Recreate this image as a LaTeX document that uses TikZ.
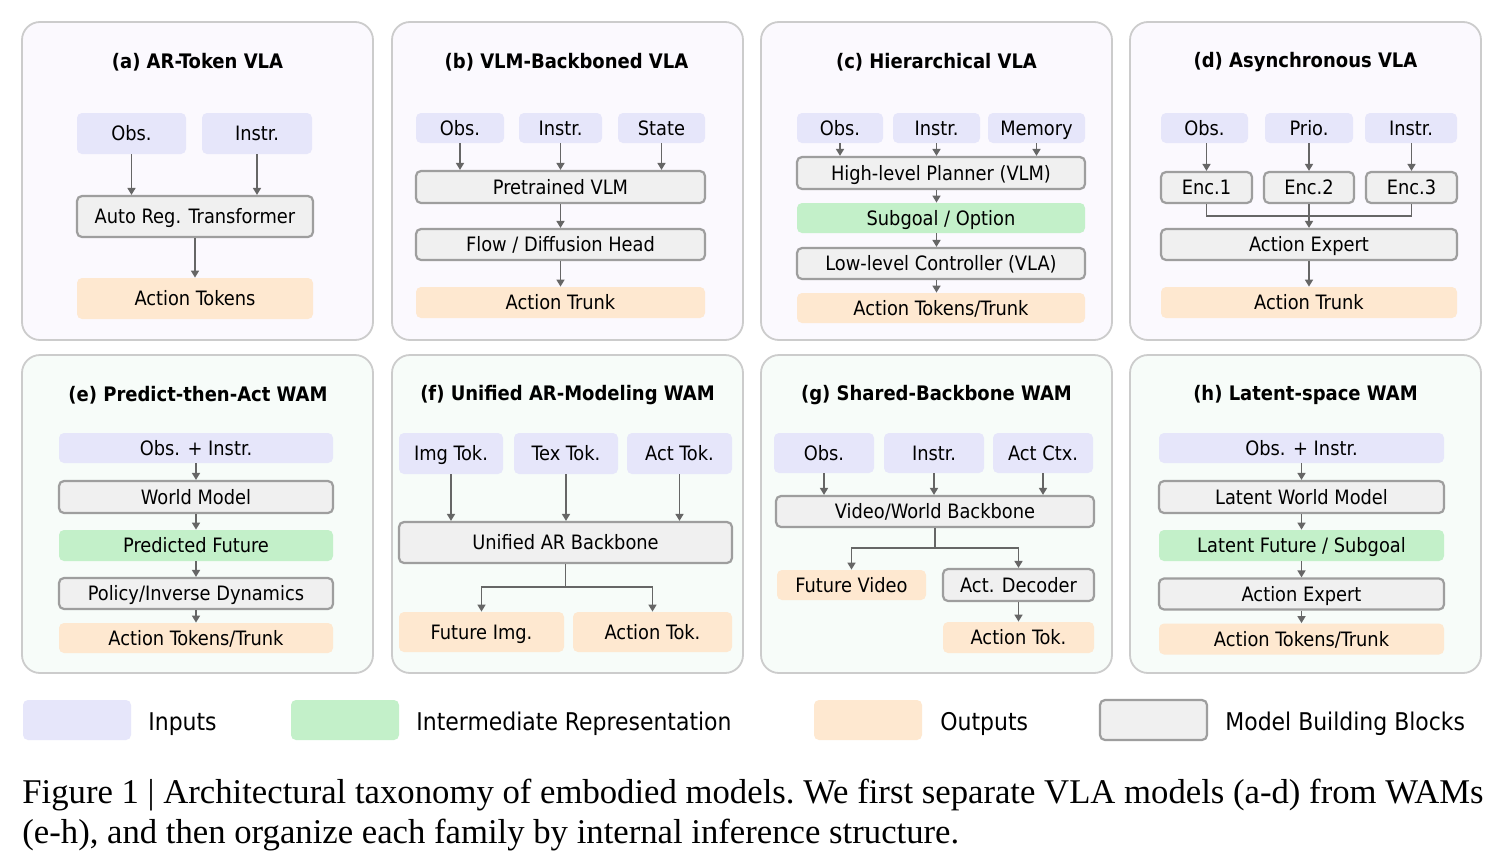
\documentclass[tikz,border=0pt]{standalone}
\usepackage{fontspec}
\setmainfont{Liberation Serif}
\newfontfamily\diagfont{DejaVu Sans Condensed}
\usepackage{tikz}
\usetikzlibrary{arrows.meta}
\usepackage{xcolor}
\definecolor{inblue}{HTML}{E6E6FA}
\definecolor{midgreen}{HTML}{C3F0C9}
\definecolor{outpeach}{HTML}{FEE8D0}
\definecolor{modgray}{HTML}{F0F0F0}
\definecolor{modedge}{HTML}{9E9E9E}
\definecolor{arrgray}{HTML}{666666}
\definecolor{panedge}{HTML}{CCCCCC}
\definecolor{vlafill}{HTML}{FBF9FE}
\definecolor{wamfill}{HTML}{F7FCF9}

\begin{document}
\begin{tikzpicture}[x=0.5pt,y=-0.5pt,
    blk/.style={rounded corners=2.5pt,inner sep=0pt,text height=0.73em,text depth=0pt,font=\diagfont\fontsize{9.9}{11}\selectfont},
    inbox/.style={blk,fill=inblue},
    midbox/.style={blk,fill=midgreen},
    outbox/.style={blk,fill=outpeach},
    modbox/.style={blk,fill=modgray,draw=modedge,line width=1.1pt},
    panel/.style={draw=panedge,line width=0.9pt,rounded corners=9pt},
    ptitle/.style={font=\diagfont\bfseries\fontsize{10}{12}\selectfont},
    flow/.style={draw=arrgray,line width=0.8pt,-{Triangle[length=3.5pt,width=4pt]}},
    link/.style={draw=arrgray,line width=0.8pt},
    legtext/.style={anchor=base west,inner sep=0pt,font=\diagfont\fontsize{12.2}{14}\selectfont}]
    \fill[white] (0,0) rectangle (1501,857);
    \useasboundingbox (0,0) rectangle (1501,857);

    \draw[panel,fill=vlafill] (22,22) rectangle (373,340);
    \draw[panel,fill=vlafill] (392,22) rectangle (743,340);
    \draw[panel,fill=vlafill] (761,22) rectangle (1112,340);
    \draw[panel,fill=vlafill] (1130,22) rectangle (1481,340);
    \draw[panel,fill=wamfill] (22,355) rectangle (373,673);
    \draw[panel,fill=wamfill] (392,355) rectangle (743,673);
    \draw[panel,fill=wamfill] (761,355) rectangle (1112,673);
    \draw[panel,fill=wamfill] (1130,355) rectangle (1481,673);

    \node[ptitle] (ttlA) at (197.5,62) {(a) AR-Token VLA};
    \node[inbox,minimum width=54.5pt,minimum height=20.5pt] (obsA) at (131.5,133.5) {Obs.};
    \node[inbox,minimum width=55pt,minimum height=20.5pt] (insA) at (257,133.5) {Instr.};
    \node[modbox,minimum width=118pt,minimum height=20.5pt] (artA) at (195,216.5) {Auto Reg. Transformer};
    \node[outbox,minimum width=118pt,minimum height=20.5pt] (actA) at (195,298.5) {Action Tokens};
    \draw[flow] (obsA) -- (obsA |- artA.north);
    \draw[flow] (insA) -- (insA |- artA.north);
    \draw[flow] (artA) -- (actA);

    \node[ptitle] (ttlB) at (566.5,62) {(b) VLM-Backboned VLA};
    \node[inbox,minimum width=44pt,minimum height=15pt] (obsB) at (460,128) {Obs.};
    \node[inbox,minimum width=41.5pt,minimum height=15pt] (insB) at (560.5,128) {Instr.};
    \node[inbox,minimum width=43.5pt,minimum height=15pt] (staB) at (661.5,128) {State};
    \node[modbox,minimum width=144.5pt,minimum height=16pt] (vlmB) at (560.5,187) {Pretrained VLM};
    \node[modbox,minimum width=144.5pt,minimum height=15.5pt] (headB) at (560.5,244.5) {Flow / Diffusion Head};
    \node[outbox,minimum width=144.5pt,minimum height=15.5pt] (trkB) at (560.5,302.5) {Action Trunk};
    \draw[flow] (obsB) -- (obsB |- vlmB.north);
    \draw[flow] (insB) -- (insB |- vlmB.north);
    \draw[flow] (staB) -- (staB |- vlmB.north);
    \draw[flow] (vlmB) -- (headB);
    \draw[flow] (headB) -- (trkB);

    \node[ptitle] (ttlC) at (936.5,62) {(c) Hierarchical VLA};
    \node[inbox,minimum width=43pt,minimum height=15pt] (obsC) at (840,128) {Obs.};
    \node[inbox,minimum width=43.5pt,minimum height=15pt] (insC) at (936.5,128) {Instr.};
    \node[inbox,minimum width=48.5pt,minimum height=15pt] (memC) at (1036.5,128) {Memory};
    \node[modbox,minimum width=144pt,minimum height=16pt] (hlpC) at (941,173) {High-level Planner (VLM)};
    \node[midbox,minimum width=144pt,minimum height=15pt] (subC) at (941,218) {Subgoal / Option};
    \node[modbox,minimum width=144pt,minimum height=15.5pt] (llcC) at (941,263.5) {Low-level Controller (VLA)};
    \node[outbox,minimum width=144pt,minimum height=15pt] (actC) at (941,308) {Action Tokens/Trunk};
    \draw[flow] (obsC) -- (obsC |- hlpC.north);
    \draw[flow] (insC) -- (insC |- hlpC.north);
    \draw[flow] (memC) -- (memC |- hlpC.north);
    \draw[flow] (hlpC.south -| insC) -- (subC.north -| insC);
    \draw[flow] (subC.south -| insC) -- (llcC.north -| insC);
    \draw[flow] (llcC.south -| insC) -- (actC.north -| insC);

    \node[ptitle] (ttlD) at (1305.5,62) {(d) Asynchronous VLA};
    \node[inbox,minimum width=43.5pt,minimum height=15pt] (obsD) at (1204.5,128) {Obs.};
    \node[inbox,minimum width=44pt,minimum height=15pt] (priD) at (1309,128) {Prio.};
    \node[inbox,minimum width=46pt,minimum height=15pt] (insD) at (1411,128) {Instr.};
    \node[modbox,minimum width=45.5pt,minimum height=15.5pt] (enc1D) at (1206.5,187.5) {Enc.1};
    \node[modbox,minimum width=45pt,minimum height=15.5pt] (enc2D) at (1309,187.5) {Enc.2};
    \node[modbox,minimum width=45.5pt,minimum height=15.5pt] (enc3D) at (1411.5,187.5) {Enc.3};
    \node[modbox,minimum width=148pt,minimum height=15.5pt] (expD) at (1309,244.5) {Action Expert};
    \node[outbox,minimum width=148pt,minimum height=15.5pt] (trkD) at (1309,302.5) {Action Trunk};
    \coordinate (mergeD) at (1309,216);
    \draw[flow] (enc1D |- obsD.south) -- (enc1D.north);
    \draw[flow] (priD) -- (enc2D);
    \draw[flow] (enc3D |- insD.south) -- (enc3D.north);
    \draw[link] (enc1D) |- (mergeD) -| (enc3D);
    \draw[flow] (enc2D) -- (expD);
    \draw[flow] (expD) -- (trkD);

    \node[ptitle] (ttlE) at (198,395) {(e) Predict-then-Act WAM};
    \node[inbox,minimum width=137pt,minimum height=15pt] (oiE) at (196,448) {Obs. + Instr.};
    \node[modbox,minimum width=137pt,minimum height=16pt] (wmE) at (196,497) {World Model};
    \node[midbox,minimum width=137pt,minimum height=15.5pt] (pfE) at (196,545.5) {Predicted Future};
    \node[modbox,minimum width=137pt,minimum height=15.5pt] (pidE) at (196,593.5) {Policy/Inverse Dynamics};
    \node[outbox,minimum width=137pt,minimum height=15pt] (atE) at (196,638) {Action Tokens/Trunk};
    \draw[flow] (oiE) -- (wmE);
    \draw[flow] (wmE) -- (pfE);
    \draw[flow] (pfE) -- (pidE);
    \draw[flow] (pidE) -- (atE);

    \node[ptitle] (ttlF) at (567.5,395) {(f) Unified AR-Modeling WAM};
    \node[inbox,minimum width=52pt,minimum height=20.5pt] (imgF) at (451,453.5) {Img Tok.};
    \node[inbox,minimum width=52pt,minimum height=20.5pt] (texF) at (566,453.5) {Tex Tok.};
    \node[inbox,minimum width=52.5pt,minimum height=20.5pt] (actF) at (679.5,453.5) {Act Tok.};
    \node[modbox,minimum width=166.5pt,minimum height=20.5pt] (ubF) at (565.5,542.5) {Unified AR Backbone};
    \node[outbox,minimum width=82.5pt,minimum height=20pt] (fimgF) at (481.5,632) {Future Img.};
    \node[outbox,minimum width=79.5pt,minimum height=20pt] (atokF) at (652.5,632) {Action Tok.};
    \coordinate (splitF) at (565.5,587);
    \draw[flow] (imgF) -- (imgF |- ubF.north);
    \draw[flow] (texF) -- (texF |- ubF.north);
    \draw[flow] (actF) -- (actF |- ubF.north);
    \draw[link] (ubF) -- (splitF);
    \draw[flow] (splitF) -| (fimgF.north);
    \draw[flow] (splitF) -| (atokF.north);

    \node[ptitle] (ttlG) at (936.5,395) {(g) Shared-Backbone WAM};
    \node[inbox,minimum width=50pt,minimum height=20pt] (obsG) at (824,453) {Obs.};
    \node[inbox,minimum width=50pt,minimum height=20pt] (insG) at (934,453) {Instr.};
    \node[inbox,minimum width=50pt,minimum height=20pt] (ctxG) at (1043,453) {Act Ctx.};
    \node[modbox,minimum width=159pt,minimum height=15.5pt] (vwbG) at (935,511.5) {Video/World Backbone};
    \node[outbox,minimum width=74.5pt,minimum height=15pt] (fvG) at (851.5,585) {Future Video};
    \node[modbox,minimum width=75.5pt,minimum height=16pt] (adG) at (1018.5,585) {Act. Decoder};
    \node[outbox,minimum width=75.5pt,minimum height=15.5pt] (atG) at (1018.5,637.5) {Action Tok.};
    \coordinate (splitG) at (935,548);
    \draw[flow] (obsG) -- (obsG |- vwbG.north);
    \draw[flow] (insG) -- (insG |- vwbG.north);
    \draw[flow] (ctxG) -- (ctxG |- vwbG.north);
    \draw[link] (vwbG) -- (splitG);
    \draw[flow] (splitG) -| (fvG.north);
    \draw[flow] (splitG) -| (adG.north);
    \draw[flow] (adG) -- (atG);

    \node[ptitle] (ttlH) at (1305.5,395) {(h) Latent-space WAM};
    \node[inbox,minimum width=142.5pt,minimum height=15pt] (oiH) at (1301.5,448) {Obs. + Instr.};
    \node[modbox,minimum width=142.5pt,minimum height=16pt] (lwmH) at (1301.5,497) {Latent World Model};
    \node[midbox,minimum width=142.5pt,minimum height=15.5pt] (lfH) at (1301.5,545.5) {Latent Future / Subgoal};
    \node[modbox,minimum width=142.5pt,minimum height=15.5pt] (aeH) at (1301.5,594) {Action Expert};
    \node[outbox,minimum width=142.5pt,minimum height=15.5pt] (atH) at (1301.5,639) {Action Tokens/Trunk};
    \draw[flow] (oiH) -- (lwmH);
    \draw[flow] (lwmH) -- (lfH);
    \draw[flow] (lfH) -- (aeH);
    \draw[flow] (aeH) -- (atH);

    \node[inbox,minimum width=54pt,minimum height=20pt] (legIn) at (77,720) {};
    \node[legtext] (legInT) at (148,730) {Inputs};
    \node[midbox,minimum width=54pt,minimum height=20pt] (legMid) at (345,720) {};
    \node[legtext] (legMidT) at (416,730) {Intermediate Representation};
    \node[outbox,minimum width=54pt,minimum height=20pt] (legOut) at (868,720) {};
    \node[legtext] (legOutT) at (940,730) {Outputs};
    \node[modbox,minimum width=53.5pt,minimum height=20pt] (legMod) at (1153.5,720) {};
    \node[legtext] (legModT) at (1225,730) {Model Building Blocks};

    \node[anchor=base west,inner sep=0pt,font=\frenchspacing\fontsize{17.35}{20}\selectfont] (capA) at (22,803) {Figure 1 | Architectural taxonomy of embodied models. We first separate VLA models (a-d) from WAMs};
    \node[anchor=base west,inner sep=0pt,font=\frenchspacing\fontsize{17.35}{20}\selectfont] (capB) at (22,843) {(e-h), and then organize each family by internal inference structure.};
\end{tikzpicture}
\end{document}
